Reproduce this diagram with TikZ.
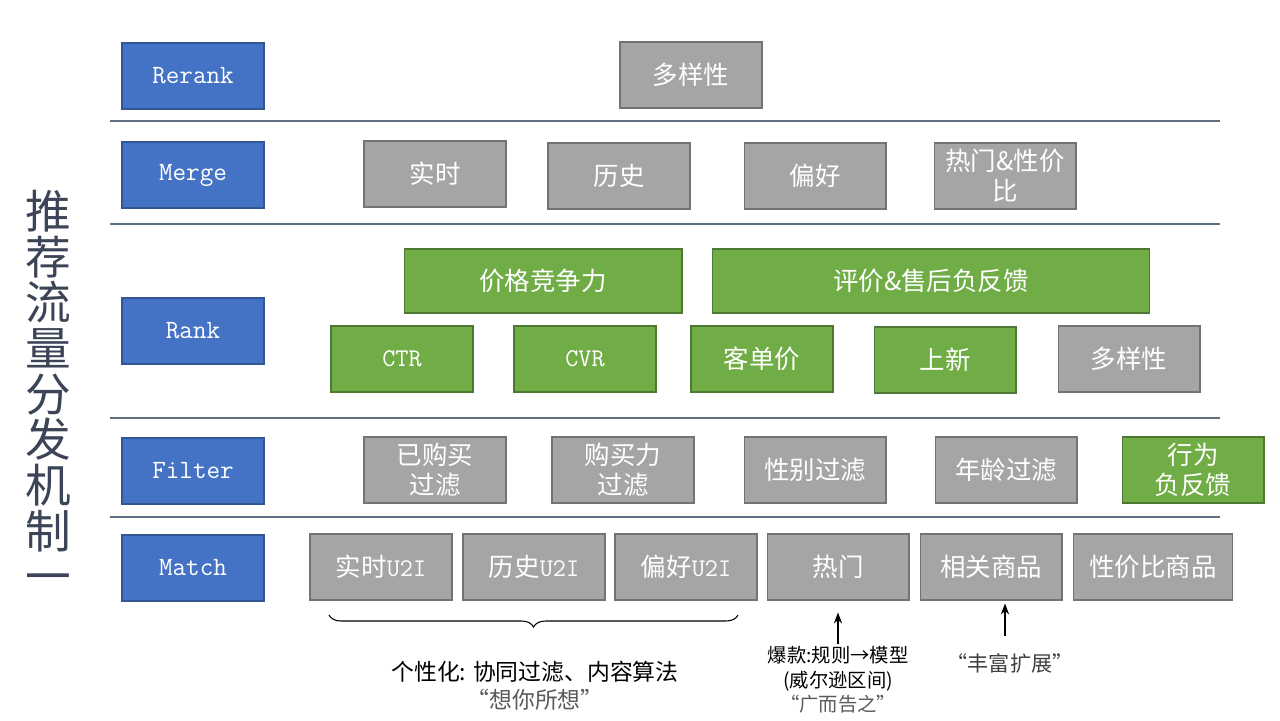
\documentclass[tikz,border=0pt]{standalone}
\usepackage{fontspec}
\newfontfamily\cjk{Noto Sans CJK SC}
\usetikzlibrary{arrows.meta,decorations.pathreplacing}
\definecolor{stageblue}{HTML}{4472C4}
\definecolor{boxgray}{HTML}{A5A5A5}
\definecolor{boxgreen}{HTML}{70AD47}
\definecolor{rulegray}{HTML}{5F7082}
\definecolor{quotegray}{HTML}{595959}
\definecolor{titleink}{HTML}{3C4457}
\tikzset{
  >={Stealth[length=2.2mm]},
  stagebox/.style={draw=stageblue!75!black,fill=stageblue,text=white,
    minimum width=2.84cm,minimum height=1.32cm,inner sep=1pt,line width=0.6pt,
    font=\ttfamily\fontsize{15}{17}\selectfont},
  graybox/.style={draw=boxgray!70!black,fill=boxgray,text=white,
    minimum width=2.84cm,minimum height=1.32cm,inner sep=1pt,line width=0.6pt,
    align=center,font=\cjk\fontsize{14.5}{17}\selectfont},
  greenbox/.style={graybox,draw=boxgreen!70!black,fill=boxgreen},
  widebox/.style={minimum height=1.28cm},
  sepline/.style={rulegray,line width=0.8pt},
  notelbl/.style={align=center,inner sep=1pt},
  notearrow/.style={->,line width=0.6pt,black},
  bracelbl/.style={decorate,decoration={brace,amplitude=0.24cm},line width=0.6pt,black},
  titlelbl/.style={align=center,text=titleink,font=\cjk\fontsize{26}{26}\selectfont},
}
\begin{document}
\begin{tikzpicture}[x=0.02cm,y=-0.02cm]
  \useasboundingbox (0,0) rectangle (1280,720);
  % title
  \node[titlelbl] (ttl) at (48,392) {推\\荐\\流\\量\\分\\发\\机\\制\\一};
  % stages
  \node[stagebox] (rerank) at (193,76)  {Rerank};
  \node[stagebox] (merge)  at (193,175) {Merge};
  \node[stagebox] (rank)   at (193,331) {Rank};
  \node[stagebox] (filter) at (193,471) {Filter};
  \node[stagebox] (match)  at (193,568) {Match};
  % separators
  \foreach \yy in {121,224,418,517}
    \draw[sepline] (110,\yy) -- (1220,\yy);
  % rerank
  \node[graybox] (rdiv) at (691,75) {多样性};
  % merge
  \node[graybox] (mrt)  at (435,174) {实时};
  \node[graybox] (mhis) at (619,176) {历史};
  \node[graybox] (mpre) at (815,176) {偏好};
  \node[graybox] (mhot) at (1005,176) {热门\&性价\\比};
  % rank
  \node[greenbox,widebox,minimum width=5.56cm] (price) at (543,281) {价格竞争力};
  \node[greenbox,widebox,minimum width=8.74cm] (review) at (931,281) {评价\&售后负反馈};
  \node[greenbox] (ctr)  at (402,359) {\ttfamily CTR};
  \node[greenbox] (cvr)  at (585,359) {\ttfamily CVR};
  \node[greenbox] (aov)  at (762,359) {客单价};
  \node[greenbox] (newi) at (945,360) {上新};
  \node[graybox]  (kdiv) at (1129,359) {多样性};
  % filter
  \node[graybox]  (fbuy) at (435,470) {已购买\\过滤};
  \node[graybox]  (fpow) at (623,470) {购买力\\过滤};
  \node[graybox]  (fsex) at (815,470) {性别过滤};
  \node[graybox]  (fage) at (1006,470) {年龄过滤};
  \node[greenbox] (fneg) at (1193,470) {行为\\负反馈};
  % match
  \node[graybox] (rtu)  at (381,567) {实时{\ttfamily U2I}};
  \node[graybox] (hisu) at (534,567) {历史{\ttfamily U2I}};
  \node[graybox] (preu) at (686,567) {偏好{\ttfamily U2I}};
  \node[graybox] (hot)  at (838,567) {热门};
  \node[graybox] (rel)  at (991,567) {相关商品};
  \node[graybox,minimum width=3.18cm] (value) at (1153,567) {性价比商品};
  % notes
  \coordinate (brl) at (329,615);
  \coordinate (brr) at (738,615);
  \draw[bracelbl] (brr) -- (brl);
  \node[notelbl,font=\cjk\fontsize{13}{16}\selectfont] (pers) at (535,686)
    {个性化: 协同过滤、内容算法\\\textcolor{quotegray}{“想你所想”}};
  \node[notelbl,font=\cjk\fontsize{11}{14}\selectfont] (boom) at (838,680)
    {爆款:规则→模型\\(威尔逊区间)\\\textcolor{quotegray}{“广而告之”}};
  \node[notelbl,text=black!75,font=\cjk\fontsize{12}{14}\selectfont] (rich) at (1010,663) {“丰富扩展”};
  \draw[notearrow,shorten >=0.24cm] (boom.north) -- (hot.south);
  \draw[notearrow,shorten <=0.3cm,shorten >=0.06cm]
    ([xshift=-0.1cm]rich.north) -- ([xshift=-0.1cm]rich.north |- rel.south);
\end{tikzpicture}
\end{document}
